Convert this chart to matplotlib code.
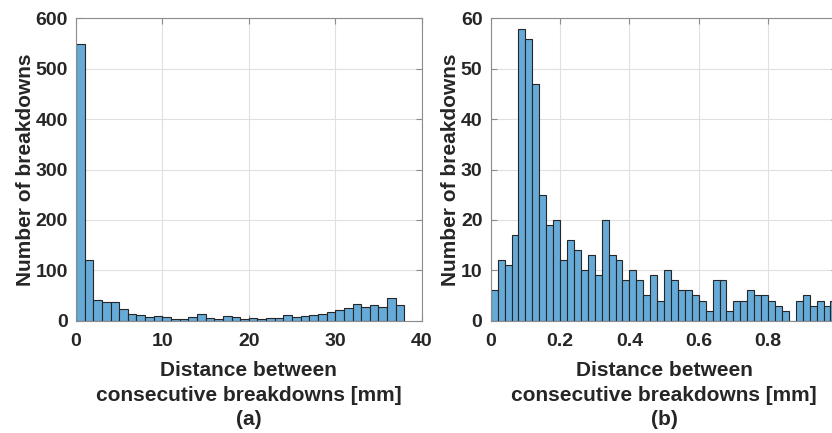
"""
Histogram of distances between consecutive breakdowns, two panels (a) and (b)
"""

import numpy as np
import matplotlib
matplotlib.use('Agg')
import matplotlib.pyplot as plt

plt.rcParams['font.family'] = ['Liberation Sans', 'DejaVu Sans']
plt.rcParams['font.weight'] = 'bold'

# (a) bins of 1 mm, 0 .. 38 mm
bin_width_a = 1.0
counts_a = [550, 120, 42, 38, 38, 24, 14, 12, 7, 9,
            8, 3, 3, 8, 13, 5, 3, 9, 7, 3,
            5, 3, 5, 5, 11, 8, 9, 12, 13, 17,
            21, 25, 33, 28, 31, 28, 46, 32]

# (b) bins of 0.02 mm, 0 .. 1 mm
bin_width_b = 0.02
counts_b = [6, 12, 11, 17, 58, 56, 47, 25, 19, 20,
            12, 16, 14, 10, 13, 9, 20, 13, 12, 8,
            10, 8, 5, 9, 4, 10, 8, 6, 6, 5,
            4, 2, 8, 8, 2, 4, 4, 6, 5, 5,
            4, 3, 2, 0, 4, 5, 3, 4, 3, 4]

xticks_a = [0, 10, 20, 30, 40]
yticks_a = [0, 100, 200, 300, 400, 500, 600]
xticks_b = [0, 0.2, 0.4, 0.6, 0.8, 1.0]
xticklabels_b = ['0', '0.2', '0.4', '0.6', '0.8', '1']
yticks_b = [0, 10, 20, 30, 40, 50, 60]

xlabel = 'Distance between\nconsecutive breakdowns [mm]'
ylabel = 'Number of breakdowns'

text_color = '#262626'
face_color = '#66aad7'
edge_color = '#262626'


def draw_hist(ax, counts, width, xlim, ylim, xticks, yticks, xticklabels, tag):
    counts = np.asarray(counts, dtype=float)
    edges = np.arange(len(counts) + 1) * width
    centers = edges[:-1] + width / 2
    ax.hist(centers, bins=edges, weights=counts, color=face_color,
            edgecolor=edge_color, linewidth=0.8, zorder=2)
    ax.set_xlim(*xlim)
    ax.set_ylim(*ylim)
    ax.set_xticks(xticks)
    ax.set_xticklabels(xticklabels)
    ax.set_yticks(yticks)
    ax.grid(True, color='#e0e0e0', linewidth=0.8, zorder=0)
    ax.set_axisbelow(True)
    for s in ax.spines.values():
        s.set_color('#8c8c8c')
        s.set_linewidth(0.8)
    ax.tick_params(direction='in', length=4, width=0.8, color='#8c8c8c',
                   top=True, right=True, labelsize=14, labelcolor=text_color)
    ax.tick_params(axis='x', pad=9)
    ax.tick_params(axis='y', pad=6)
    ax.set_xlabel(xlabel + '\n' + tag, fontsize=15, color=text_color,
                  linespacing=1.35, labelpad=8, fontweight='bold')
    ax.set_ylabel(ylabel, fontsize=15, color=text_color, fontweight='bold',
                  labelpad=0.5)


fig = plt.figure(figsize=(8.32, 4.33), dpi=100)
ax1 = fig.add_axes([0.0913, 0.2594, 0.4155, 0.6979])
ax2 = fig.add_axes([0.5898, 0.2594, 0.4167, 0.6979])

draw_hist(ax1, counts_a, bin_width_a, (0, 40), (0, 600),
          xticks_a, yticks_a, [str(t) for t in xticks_a], '(a)')
draw_hist(ax2, counts_b, bin_width_b, (0, 1), (0, 60),
          xticks_b, yticks_b, xticklabels_b, '(b)')

fig.savefig('out.png', dpi=100)
